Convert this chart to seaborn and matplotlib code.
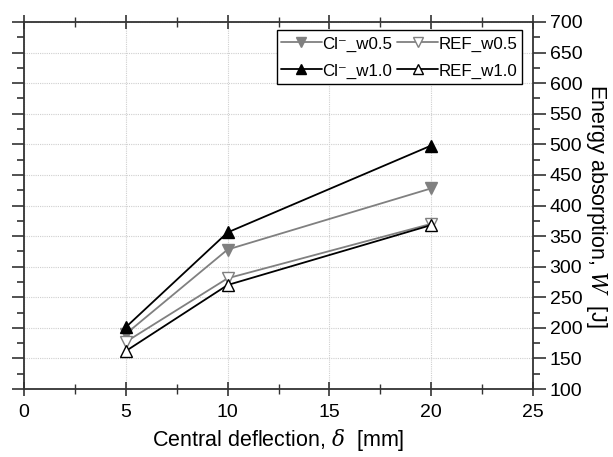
import matplotlib
matplotlib.use("Agg")
import matplotlib.pyplot as plt
import seaborn as sns
import pandas as pd
from matplotlib.ticker import MultipleLocator

deflection = [5, 10, 20]
cl_w05 = [190, 328, 428]
ref_w05 = [177, 281, 370]
cl_w10 = [201, 356, 498]
ref_w10 = [162, 270, 368]
labels = ["Cl\u207b_w0.5", "REF_w0.5", "Cl\u207b_w1.0", "REF_w1.0"]

sns.set_theme(style="white")
plt.rcParams['font.family'] = ['Liberation Sans', 'DejaVu Sans']
plt.rcParams['mathtext.fontset'] = 'dejavuserif'

fig = plt.figure(figsize=(6.13, 4.57), dpi=100)
ax = fig.add_axes([24/613, 1-389/457, (533-24)/613, (389-22)/457])

gray = "#808080"
specs = [
    (cl_w05, labels[0], gray, "v", gray),
    (ref_w05, labels[1], gray, "v", "white"),
    (cl_w10, labels[2], "black", "^", "black"),
    (ref_w10, labels[3], "black", "^", "white"),
]
for vals, lab, col, mk, fc in specs:
    df = pd.DataFrame({"x": deflection, "y": vals})
    sns.lineplot(data=df, x="x", y="y", ax=ax, color=col, marker=mk,
                 markerfacecolor=fc, markeredgecolor=col, markersize=9,
                 markeredgewidth=1.0, linewidth=1.3, label=lab)

ax.set_xlim(0, 25)
ax.set_ylim(100, 700)
ax.xaxis.set_major_locator(MultipleLocator(5))
ax.xaxis.set_minor_locator(MultipleLocator(2.5))
ax.yaxis.set_major_locator(MultipleLocator(50))
ax.yaxis.set_minor_locator(MultipleLocator(25))

ax.grid(True, which="major", color="#cfcfcf", linestyle=(0, (1, 1)), linewidth=0.8)

for s in ax.spines.values():
    s.set_color("#333333")
    s.set_linewidth(1.3)

ax.yaxis.tick_right()
ax.yaxis.set_label_position("right")
ax.tick_params(axis="y", which="both", left=True, right=True, labelleft=False,
               labelright=True, direction="out", colors="#333333",
               labelcolor="black", labelsize=14)
ax.tick_params(axis="y", which="major", length=9, width=1.2, pad=3)
ax.tick_params(axis="y", which="minor", length=5, width=1.2)
ax.tick_params(axis="x", which="both", bottom=True, top=True, direction="inout",
               colors="#333333", labelcolor="black", labelsize=14)
ax.tick_params(axis="x", which="major", length=10, width=1.2, pad=6)
ax.tick_params(axis="x", which="minor", length=7, width=1.0)

ax.set_xlabel("Central deflection, $\\delta$  [mm]", fontsize=15.5, labelpad=4, color="black")
ax.set_ylabel("Energy absorption, $\\mathit{W}$  [J]", fontsize=15.5, rotation=-90,
              labelpad=19, color="black")

handles, labs = ax.get_legend_handles_labels()
order = [0, 2, 1, 3]
leg = ax.legend([handles[i] for i in order], [labs[i] for i in order],
                loc="upper right", ncol=2, fontsize=12.2, frameon=True, fancybox=False,
                edgecolor="black", framealpha=1, handlelength=2.4, columnspacing=0.3,
                handletextpad=0.05, borderpad=0.25, labelspacing=0.5, handleheight=1.3,
                markerscale=0.85, bbox_to_anchor=(0.9785, 0.978), borderaxespad=0)
leg.get_frame().set_linewidth(1.0)
for t in leg.get_texts():
    t.set_color("black")

fig.savefig("out.png", dpi=100)
